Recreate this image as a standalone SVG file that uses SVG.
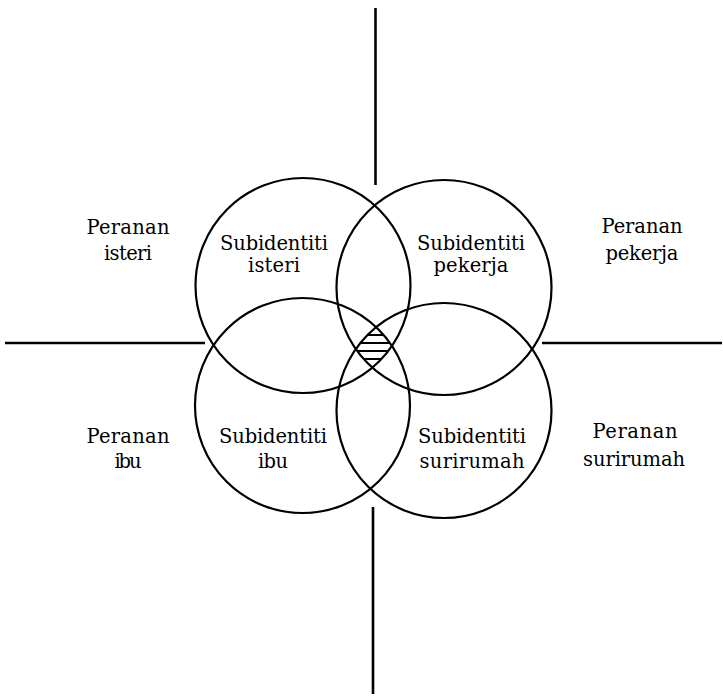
<svg xmlns="http://www.w3.org/2000/svg" width="723" height="698" viewBox="0 0 723 698">
<style>
.c{fill:none;stroke:#000;stroke-width:2.2}
.l{stroke:#000;stroke-width:2.6;fill:none}
.h{stroke:#000;stroke-width:2.2}
.t{font-family:'DejaVu Serif',serif;font-size:19.5px;fill:#000;text-anchor:middle}
</style>
<defs>
<clipPath id="k1"><circle cx="303" cy="285.5" r="107.5"/></clipPath>
<clipPath id="k2"><circle cx="444" cy="287.5" r="107.5"/></clipPath>
<clipPath id="k3"><circle cx="302.5" cy="405.5" r="107.5"/></clipPath>
<clipPath id="k4"><circle cx="444" cy="410.5" r="107.5"/></clipPath>
</defs>
<rect width="723" height="698" fill="#fff"/>
<g id="connectors">
<line class="l" x1="375.5" y1="8" x2="375.5" y2="185"/>
<line class="l" x1="373" y1="507" x2="373" y2="694"/>
<line class="l" x1="5" y1="343" x2="205" y2="343"/>
<line class="l" x1="542" y1="343" x2="722" y2="343"/>
</g>
<g id="isteri">
<circle class="c" cx="303" cy="285.5" r="107.5"/>
<text class="t" x="274" y="250" textLength="108" lengthAdjust="spacing">Subidentiti</text>
<text class="t" x="274" y="272" textLength="52" lengthAdjust="spacing">isteri</text>
</g>
<g id="pekerja">
<circle class="c" cx="444" cy="287.5" r="107.5"/>
<text class="t" x="471" y="250" textLength="108" lengthAdjust="spacing">Subidentiti</text>
<text class="t" x="471" y="272" textLength="75" lengthAdjust="spacing">pekerja</text>
</g>
<g id="ibu">
<circle class="c" cx="302.5" cy="405.5" r="107.5"/>
<text class="t" x="273" y="443" textLength="108" lengthAdjust="spacing">Subidentiti</text>
<text class="t" x="273" y="468" textLength="30" lengthAdjust="spacing">ibu</text>
</g>
<g id="surirumah">
<circle class="c" cx="444" cy="410.5" r="107.5"/>
<text class="t" x="472" y="443" textLength="108" lengthAdjust="spacing">Subidentiti</text>
<text class="t" x="472" y="468" textLength="105" lengthAdjust="spacing">surirumah</text>
</g>
<g id="overlap">
<g clip-path="url(#k1)"><g clip-path="url(#k2)"><g clip-path="url(#k3)"><g clip-path="url(#k4)">
<line class="h" x1="330" y1="335" x2="420" y2="335"/>
<line class="h" x1="330" y1="343" x2="420" y2="343"/>
<line class="h" x1="330" y1="351" x2="420" y2="351"/>
<line class="h" x1="330" y1="359" x2="420" y2="359"/>
<line class="h" x1="330" y1="367" x2="420" y2="367"/>
</g></g></g></g>
</g>
<g id="role-isteri">
<text class="t" x="128" y="234" textLength="83" lengthAdjust="spacing">Peranan</text>
<text class="t" x="128" y="260" textLength="48" lengthAdjust="spacing">isteri</text>
</g>
<g id="role-pekerja">
<text class="t" x="642" y="233" textLength="81" lengthAdjust="spacing">Peranan</text>
<text class="t" x="642" y="260" textLength="73" lengthAdjust="spacing">pekerja</text>
</g>
<g id="role-ibu">
<text class="t" x="128" y="443" textLength="83" lengthAdjust="spacing">Peranan</text>
<text class="t" x="128" y="468" textLength="27" lengthAdjust="spacing">ibu</text>
</g>
<g id="role-surirumah">
<text class="t" x="635" y="438" textLength="85" lengthAdjust="spacing">Peranan</text>
<text class="t" x="634" y="466" textLength="102" lengthAdjust="spacing">surirumah</text>
</g>
</svg>
